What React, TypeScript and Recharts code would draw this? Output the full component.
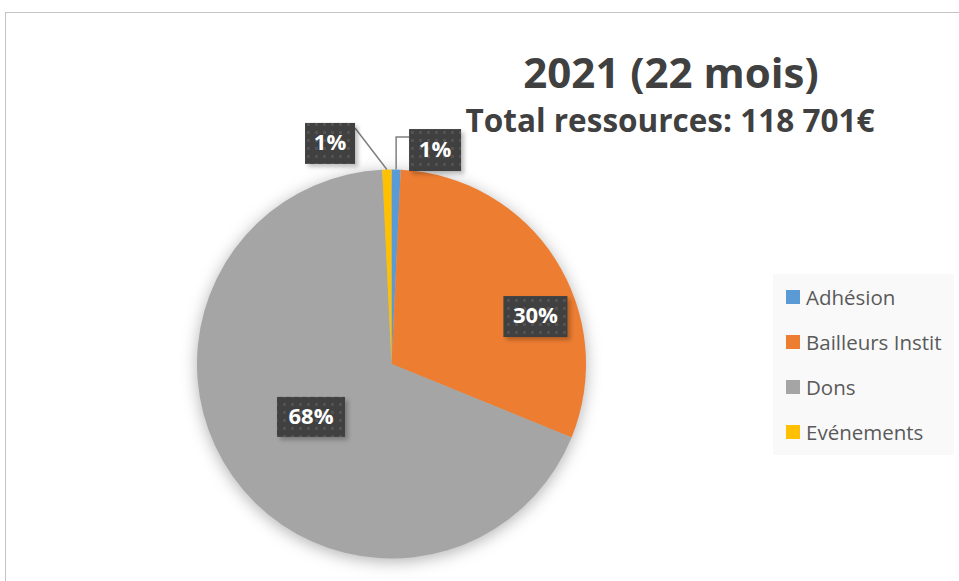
import React from 'react';
import { PieChart, Pie, Cell, Legend } from 'recharts';

const categories = ['Adhésion', 'Bailleurs Instit', 'Dons', 'Evénements'];
const values = [900, 36100, 80801, 900];
const colors = ['#5B9BD5', '#ED7D31', '#A5A5A5', '#FFC000'];
const titleLine1 = '2021 (22 mois)';
const titleLine2 = 'Total ressources: 118 701€';

const data = categories.map((name, i) => ({ name, value: values[i] }));

// label placement relative to pie centre, in units of the outer radius
const labelLayout = [
  { dx: 0.224, dy: -1.1, w: 52, h: 42, line: 'elbow' },
  { dx: 0.74, dy: -0.244, w: 64, h: 41, line: 'none' },
  { dx: -0.414, dy: 0.272, w: 68, h: 40, line: 'none' },
  { dx: -0.316, dy: -1.134, w: 50, h: 41, line: 'straight' },
];

const RAD = Math.PI / 180;

const renderLabel = (props: any) => {
  const { cx, cy, outerRadius, midAngle, percent, index } = props;
  const L = labelLayout[index];
  const bx = cx + L.dx * outerRadius;
  const by = cy + L.dy * outerRadius;
  const left = bx - L.w / 2;
  const top = by - L.h / 2;
  const ex = cx + outerRadius * Math.cos(-midAngle * RAD);
  const ey = cy + outerRadius * Math.sin(-midAngle * RAD);
  let line: any = null;
  if (L.line === 'elbow') {
    line = <path d={`M${left},${top + 8} H${ex} V${ey}`} stroke="#7f7f7f" strokeWidth={1.5} fill="none" />;
  } else if (L.line === 'straight') {
    line = <path d={`M${left + L.w},${top + 5} L${ex},${ey}`} stroke="#7f7f7f" strokeWidth={1.5} fill="none" />;
  }
  return (
    <g key={`lbl-${index}`}>
      {index === 0 && (
        <defs>
          <pattern id="dotPat" width="8" height="8" patternUnits="userSpaceOnUse">
            <rect width="8" height="8" fill="#404040" />
            <rect x="3" y="3" width="3" height="3" fill="#525252" />
          </pattern>
        </defs>
      )}
      {line}
      <rect x={left + 3} y={top + 3} width={L.w} height={L.h} fill="rgba(0,0,0,0.25)" style={{ filter: 'blur(2px)' }} />
      <rect x={left} y={top} width={L.w} height={L.h} fill="url(#dotPat)" />
      <text
        x={bx}
        y={by + 1}
        textAnchor="middle"
        dominantBaseline="middle"
        fill="#ffffff"
        fontFamily="'Open Sans', sans-serif"
        fontWeight={700}
        fontSize={22}
      >
        {`${Math.round(percent * 100)}%`}
      </text>
    </g>
  );
};

const renderLegend = (props: any) => {
  const { payload } = props;
  return (
    <div
      style={{
        width: 181,
        height: 181,
        background: '#f9f9f9',
        boxSizing: 'border-box',
        paddingTop: 0,
        fontFamily: "'Open Sans', sans-serif",
      }}
    >
      {payload.map((entry: any, i: number) => (
        <div key={i} style={{ display: 'flex', alignItems: 'center', height: 45, paddingLeft: 13 }}>
          <div style={{ width: 14, height: 14, background: entry.color, marginRight: 6, flexShrink: 0 }} />
          <span style={{ fontSize: 20.5, color: '#595959', whiteSpace: 'nowrap' }}>{entry.value}</span>
        </div>
      ))}
    </div>
  );
};

export default function App() {
  return (
    <div style={{ position: 'absolute', left: 0, top: 0, width: 959, height: 581, overflow: 'hidden', background: '#fff' }}>
      <style>{`.recharts-pie { filter: drop-shadow(0px 3px 8px rgba(0,0,0,0.3)); }`}</style>
      <div
        style={{
          position: 'absolute',
          left: 5,
          top: 12,
          width: 1200,
          height: 800,
          border: '1px solid #c4c4c4',
          boxSizing: 'border-box',
        }}
      />
      <svg width={959} height={581} style={{ position: 'absolute', left: 0, top: 0 }}>
        <text x={671} y={88} textAnchor="middle" fill="#404040" fontFamily="'Open Sans', sans-serif" fontWeight={700} fontSize={42}>
          {titleLine1}
        </text>
        <text x={670} y={132} textAnchor="middle" fill="#404040" fontFamily="'Open Sans', sans-serif" fontWeight={700} fontSize={31.5}>
          {titleLine2}
        </text>
      </svg>
      <div style={{ position: 'absolute', left: 0, top: 0 }}>
        <PieChart width={959} height={581} margin={{ top: 0, right: 0, bottom: 0, left: 0 }}>
          <Pie
            data={data}
            dataKey="value"
            nameKey="name"
            cx={391.5}
            cy={364}
            outerRadius={194.5}
            startAngle={90}
            endAngle={-270}
            stroke="none"
            isAnimationActive={false}
            label={renderLabel}
            labelLine={false}
          >
            {data.map((d, i) => (
              <Cell key={d.name} fill={colors[i]} />
            ))}
          </Pie>
          <Legend
            layout="vertical"
            content={renderLegend}
            wrapperStyle={{ position: 'absolute', left: 773, top: 274, width: 181, height: 181 }}
          />
        </PieChart>
      </div>
    </div>
  );
}
